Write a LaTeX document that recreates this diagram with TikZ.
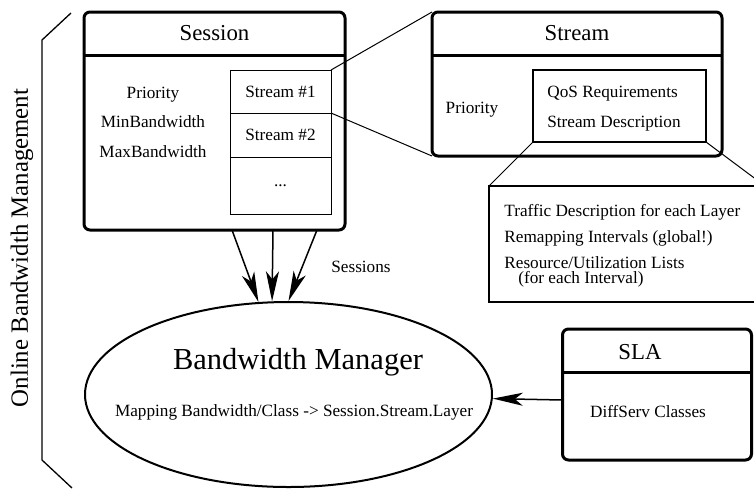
\documentclass[tikz,border=0pt]{standalone}
\usepackage{fontspec}
\setmainfont{Liberation Serif}
\usetikzlibrary{shapes.geometric,arrows.meta}

\begin{document}
\begin{tikzpicture}[x=0.5pt,y=-0.5pt,
  classbox/.style={draw, line width=1.5pt, rounded corners=3pt, inner sep=0pt, outer sep=0pt},
  txt/.style={inner sep=0pt, font=\fontsize{8.6}{14.75}\selectfont},
  cell/.style={txt, draw, line width=0.5pt, outer sep=0pt, minimum width=50.5pt},
  title/.style={inner sep=0pt, font=\fontsize{11.4}{13}\selectfont},
  zoomline/.style={line width=0.5pt},
  flow/.style={line width=0.75pt, -{Stealth[length=15pt,width=6.5pt,inset=4pt]}}]
\useasboundingbox (0,0) rectangle (754,489);

% session
\node[classbox, minimum width=130.5pt, minimum height=109pt] (session) at (214.5,121) {};
\draw[line width=1.5pt] ([yshift=-21.5pt]session.north west) -- ([yshift=-21.5pt]session.north east);
\node[title] (sessiontitle) at (214.5,33) {Session};
\node[txt, align=center] (sessionattr) at (153,122) {Priority\\MinBandwidth\\MaxBandwidth};
\node[cell, minimum height=21.5pt] (stream1) at (280.5,91.5) {Stream \#1};
\node[cell, minimum height=22pt] (stream2) at (280.5,135) {Stream \#2};
\node[cell, minimum height=28.5pt] (stream3) at (280.5,185.5) {...};

% stream
\node[classbox, minimum width=145pt, minimum height=72pt] (stream) at (577,84) {};
\draw[line width=1.5pt] ([yshift=-21.5pt]stream.north west) -- ([yshift=-21.5pt]stream.north east);
\node[title] (streamtitle) at (577,33) {Stream};
\node[txt] (streamprio) at (472,110) {Priority};
\node[draw, line width=0.6pt, inner sep=0pt, outer sep=0pt, minimum width=86.5pt, minimum height=36pt] (qos) at (619.5,106) {};
\node[txt, align=left] (qostxt) at (614,108.5) {QoS Requirements\\Stream Description};
\draw[zoomline] (stream1.north east) -- (stream.north west);
\draw[zoomline] (stream1.south east) -- (stream.south west);

% stream details
\node[draw, line width=0.65pt, inner sep=0pt, outer sep=0pt, minimum width=138pt, minimum height=58pt] (detail) at (627,244) {};
\draw[zoomline] (qos.south west) -- (detail.north west);
\draw[zoomline] (qos.south east) -- (detail.north east);
\node[txt, anchor=west] (traffic) at (504,212) {Traffic Description for each Layer};
\node[txt, anchor=west] (remap) at (504,238) {Remapping Intervals (global!)};
\node[txt, anchor=west] (resource) at (504,263) {Resource/Utilization Lists};
\node[txt, anchor=west] (interval) at (518,279) {(for each Interval)};

% bandwidth manager
\node[draw, ellipse, line width=1pt, inner sep=0pt, minimum width=203.5pt, minimum height=92.5pt] (bwm) at (288.5,394.5) {};
\node[inner sep=0pt, font=\fontsize{15.25}{18}\selectfont] (bwmtitle) at (298,362) {Bandwidth Manager};
\node[txt] (mapping) at (294,412) {Mapping Bandwidth/Class -> Session.Stream.Layer};

% sla
\node[classbox, minimum width=94.5pt, minimum height=65.5pt] (sla) at (657,394.5) {};
\draw[line width=1.5pt] ([yshift=-21.5pt]sla.north west) -- ([yshift=-21.5pt]sla.north east);
\node[title] (slatitle) at (640,352) {SLA};
\node[txt] (diffserv) at (648,412) {DiffServ Classes};

% arrows
\draw[flow] ([xshift=-56.5pt]session.south east) -- (bwm.108);
\draw[flow] ([xshift=-36pt]session.south east) -- (bwm.100);
\draw[flow] ([xshift=-14pt]session.south east) -- (bwm.90);
\node[txt] (sessionslabel) at (361,267) {Sessions};
\draw[flow] ([yshift=-2.75pt]sla.west) -- (bwm);

% bracket
\draw[line width=0.65pt] (71,13) -- (42,40) -- (42,460) -- (72,488);
\node[rotate=90, inner sep=0pt, font=\fontsize{12.4}{14}\selectfont] (mgmt) at (22,248) {Online Bandwidth Management};
\end{tikzpicture}
\end{document}
